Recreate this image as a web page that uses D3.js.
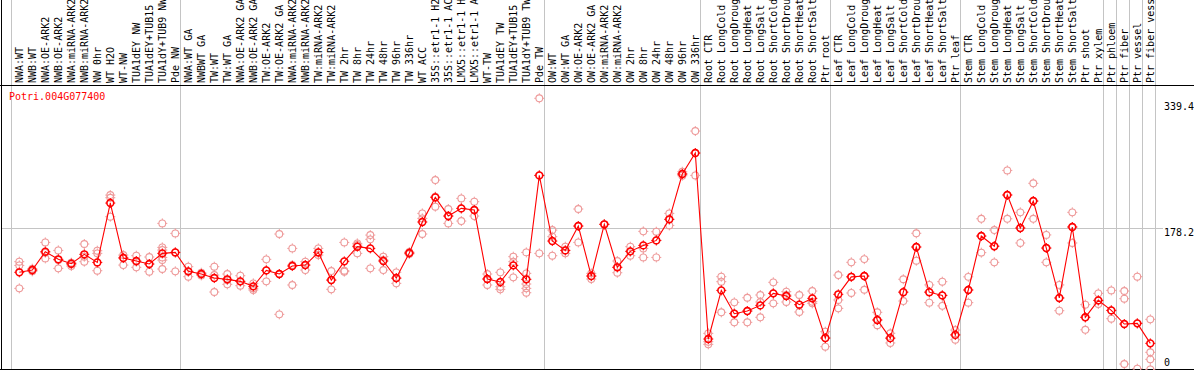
<!DOCTYPE html>
<html>
<head>
<meta charset="utf-8">
<script src="https://cdn.jsdelivr.net/npm/d3@7"></script>
<style>
  html, body { margin: 0; padding: 0; background: #fff; overflow: hidden; }
  svg { display: block; }
  text { font-family: "DejaVu Sans Mono", "Liberation Mono", monospace; font-size: 10px; }
</style>
</head>
<body>
<svg id="chart" width="1194" height="370"></svg>
<script>
// Gene expression profile - one column per sample

const geneId = 'Potri.004G077400';

const categories = [
    'NWA:WT', 'NWB:WT', 'NWA:OE-ARK2', 'NWB:OE-ARK2', 'NWA:miRNA-ARK2', 'NWB:miRNA-ARK2',
    'NW 0hr', 'WT H2O', 'WT-NW', 'TUA1dEY NW', 'TUA1dEY+TUB15 NW', 'TUA1dY+TUB9 NW', 'Pde NW',
    'NWA:WT GA', 'NWBWT GA', 'TW:WT', 'TW:WT GA', 'NWA:OE-ARK2 GA', 'NWB:OE-ARK2 GA',
    'TW:OE-ARK2', 'TW:OE-ARK2 GA', 'NWA:miRNA-ARK2', 'NWB:miRNA-ARK2', 'TW:miRNA-ARK2', 'TW:miRNA-ARK2',
    'TW 2hr', 'TW 8hr', 'TW 24hr', 'TW 48hr', 'TW 96hr', 'TW 336hr', 'WT ACC',
    '35S::etr1-1 H2O', '35S::etr1-1 ACC', 'LMX5::etr1-1 H2O', 'LMX5::etr1-1 ACC',
    'WT-TW', 'TUA1dEY TW', 'TUA1dEY+TUB15 TW', 'TUA1dY+TUB9 TW', 'Pde TW',
    'OW:WT', 'OW:WT GA', 'OW:OE-ARK2', 'OW:OE-ARK2 GA', 'OW:miRNA-ARK2', 'OW:miRNA-ARK2',
    'OW 2hr', 'OW 8hr', 'OW 24hr', 'OW 48hr', 'OW 96hr', 'OW 336hr',
    'Root CTR', 'Root LongCold', 'Root LongDrought', 'Root LongHeat', 'Root LongSalt',
    'Root ShortCold', 'Root ShortDrought', 'Root ShortHeat', 'Root ShortSalt', 'Ptr root',
    'Leaf CTR', 'Leaf LongCold', 'Leaf LongDrought', 'Leaf LongHeat', 'Leaf LongSalt',
    'Leaf ShortCold', 'Leaf ShortDrought', 'Leaf ShortHeat', 'Leaf ShortSalt', 'Ptr leaf',
    'Stem CTR', 'Stem LongCold', 'Stem LongDrought', 'Stem LongHeat', 'Stem LongSalt',
    'Stem ShortCold', 'Stem ShortDrought', 'Stem ShortHeat', 'Stem ShortSalt', 'Ptr shoot',
    'Ptr xylem', 'Ptr phloem', 'Ptr fiber', 'Ptr vessel', 'Ptr fiber vessel'
];

// mean expression per sample
const means = [
    123.6, 126.4, 149.2, 139.7, 134.3, 145.9, 135.9, 209.5, 141.3, 137.6, 133.9, 147.1, 148.3,
    124.8, 121.5, 116.5, 114.9, 112.4, 106.2, 126.0, 121.5, 131.4, 132.6, 148.3, 114.0,
    137.2, 155.4, 153.3, 137.6, 116.5, 147.5, 186.0, 216.5, 193.4, 202.9, 200.8,
    115.3, 111.6, 132.2, 114.9, 243.8,
    162.4, 150.8, 181.0, 119.0, 183.1, 129.8, 149.6, 157.0, 163.2, 189.3, 245.5, 271.5,
    40.9, 101.2, 72.3, 75.6, 82.6, 97.5, 94.2, 83.5, 91.3, 42.1,
    96.3, 118.0, 119.0, 64.5, 42.0, 99.0, 155.0, 99.0, 95.0, 46.0,
    101.7, 168.6, 156.0, 219.5, 178.5, 212.0, 153.7, 91.8, 179.8, 67.8,
    88.8, 76.4, 59.5, 60.3, 35.5
];

// individual replicates per sample
const replicates = [
    [136.8, 132.2, 103.7], [128.1, 126.4, 124.8], [160.7, 147.9, 140.9], [150.8, 138.8, 128.5],
    [135.5, 133.5, 131.4], [158.7, 143.0, 136.8], [150.4, 147.1, 125.6], [219.4, 216.1, 192.6],
    [145.0, 142.1, 132.6], [144.2, 136.8, 129.8], [142.6, 133.9, 124.4],
    [184.3, 154.5, 151.2, 142.1, 138.8, 127.7], [171.9, 148.3, 124.8],
    [130.6, 124.4, 118.2], [123.1, 121.5, 119.8], [130.6, 120.2, 99.2], [121.5, 114.0, 108.7],
    [119.4, 112.4, 107.0], [109.9, 103.7, 101.7], [139.7, 126.0, 112.4], [171.1, 121.5, 71.5],
    [153.3, 132.6, 107.9], [136.8, 132.6, 126.4], [153.3, 148.3, 145.0], [125.2, 114.0, 102.5],
    [160.7, 125.6, 124.4], [159.5, 157.4, 147.1], [169.8, 164.5, 128.5], [143.0, 138.8, 126.4],
    [123.6, 116.1, 109.9], [148.8, 147.5, 146.3], [196.7, 190.5, 171.1], [238.0, 217.4, 205.0],
    [202.1, 193.4, 184.3], [215.3, 202.9, 187.2], [211.2, 200.8, 193.4], [121.5, 115.3, 107.9],
    [123.6, 105.8, 102.5], [143.0, 136.8, 117.4], [148.3, 122.3, 114.9, 109.1, 103.7, 98.3],
    [339.4, 243.8, 147.1],
    [176.0, 167.8, 144.2], [155.4, 150.8, 147.1], [202.1, 181.0, 160.7], [122.3, 119.0, 115.3],
    [183.1, 183.1, 183.1], [137.6, 129.8, 123.1], [155.4, 149.6, 144.2], [174.4, 153.3, 142.1],
    [174.0, 163.2, 142.1], [196.7, 189.3, 181.8], [248.3, 245.5, 243.4], [298.8, 271.5, 243.8],
    [47.9, 37.6, 34.3], [118.2, 112.0, 74.0], [86.4, 72.7, 61.6], [92.1, 75.6, 61.6],
    [95.5, 86.8, 67.8], [111.2, 97.5, 85.1], [99.6, 95.5, 86.8], [95.5, 83.5, 74.4],
    [100.4, 87.2, 85.1], [50.0, 42.1, 31.4],
    [120.2, 89.3, 78.9], [136.0, 118.0, 98.0], [140.0, 119.0, 102.0], [74.0, 64.5, 58.0],
    [48.0, 42.0, 36.0], [115.0, 99.0, 88.0], [172.0, 155.0, 138.0], [108.0, 99.0, 86.0],
    [112.0, 95.0, 82.0], [52.0, 46.0, 40.0],
    [118.0, 101.7, 86.0], [190.0, 168.6, 148.0], [176.0, 156.0, 136.0], [250.0, 219.5, 190.0],
    [198.0, 178.5, 160.0], [234.0, 212.0, 190.0], [170.0, 153.7, 136.0], [108.0, 91.8, 76.0],
    [198.0, 179.8, 160.0], [83.5, 67.8, 52.3],
    [97.5, 88.8, 84.3], [101.2, 76.4, 66.1], [100.4, 90.9, 9.9], [118.2, 60.3, 4.1],
    [65.3, 24.4, 15.7, 3.3]
];

// columns after which a separator is drawn (0 = left edge)
const groupEnds = [0, 13, 41, 53, 63, 73, 84, 85, 86, 87, 88];

const yTicks = [0, 178.2, 339.4];
const gridValues = [178.2];

const W = 1194, H = 370;
const headerBottom = 85.5;
const frameBottom = 369.5;

const svg = d3.select('#chart');

const x = d3.scaleBand()
    .domain(d3.range(categories.length))
    .range([11, 11 + categories.length * 13])
    .paddingInner(0).paddingOuter(0);

const cx = i => x(i) + 8.3;

const y = d3.scaleLinear()
    .domain([0, 339.4])
    .range([372, 98.3]);

// vertical group separators
svg.append('g')
    .selectAll('line')
    .data(groupEnds)
    .join('line')
    .attr('x1', d => Math.round(x(0) + d * x.step()) + 0.5)
    .attr('x2', d => Math.round(x(0) + d * x.step()) + 0.5)
    .attr('y1', 0)
    .attr('y2', frameBottom)
    .attr('stroke', '#c4c4c4')
    .attr('stroke-width', 1);

// horizontal grid line
svg.append('g')
    .selectAll('line')
    .data(gridValues)
    .join('line')
    .attr('x1', 1)
    .attr('x2', 1163)
    .attr('y1', d => Math.round(y(d)) + 0.5)
    .attr('y2', d => Math.round(y(d)) + 0.5)
    .attr('stroke', '#c4c4c4')
    .attr('stroke-width', 1);

// frame
svg.append('line').attr('x1', 0).attr('x2', W).attr('y1', headerBottom).attr('y2', headerBottom)
    .attr('stroke', '#000').attr('stroke-width', 1);
svg.append('line').attr('x1', 0).attr('x2', W).attr('y1', frameBottom).attr('y2', frameBottom)
    .attr('stroke', '#000').attr('stroke-width', 1);
svg.append('line').attr('x1', 1.5).attr('x2', 1.5).attr('y1', 0).attr('y2', H)
    .attr('stroke', '#000').attr('stroke-width', 1);

// rotated sample labels
svg.append('g')
    .selectAll('text')
    .data(categories)
    .join('text')
    .attr('transform', (d, i) => `translate(${cx(i) - 0.3},83) rotate(-90)`)
    .attr('dy', '0.35em')
    .attr('text-anchor', 'start')
    .attr('fill', '#000')
    .text(d => d);

// gene title
svg.append('text')
    .attr('x', 9)
    .attr('y', 100)
    .attr('fill', '#ff0000')
    .text(geneId);

// y axis labels on the right
svg.append('g')
    .selectAll('text')
    .data(yTicks)
    .join('text')
    .attr('x', 1164)
    .attr('y', d => Math.min(Math.max(y(d) + 4.5, 106.7), 362.7))
    .attr('dy', '0.35em')
    .attr('fill', '#000')
    .text(d => d);

// circle with small tick marks like the original bitmap marker
function marker(g, px, py, color, sw) {
    g.append('circle')
        .attr('cx', px).attr('cy', py).attr('r', 3.4)
        .attr('fill', 'none')
        .attr('stroke', color)
        .attr('stroke-width', sw);
    g.append('path')
        .attr('d', `M${px},${py - 5}v1.6M${px},${py + 3.4}v1.6M${px - 5},${py}h1.6M${px + 3.4},${py}h1.6`)
        .attr('stroke', color)
        .attr('stroke-width', 1);
}

// replicates
const repG = svg.append('g');
replicates.forEach((reps, i) => {
    reps.forEach(v => marker(repG, cx(i), y(v), '#ee9a9a', 1.1));
});

// mean line
const line = d3.line()
    .x((d, i) => cx(i))
    .y(d => y(d));

svg.append('path')
    .datum(means)
    .attr('d', line)
    .attr('fill', 'none')
    .attr('stroke', '#ff0000')
    .attr('stroke-width', 1.1);

// means
const meanG = svg.append('g');
means.forEach((v, i) => marker(meanG, cx(i), y(v), '#ff0000', 1.6));
</script>
</body>
</html>
